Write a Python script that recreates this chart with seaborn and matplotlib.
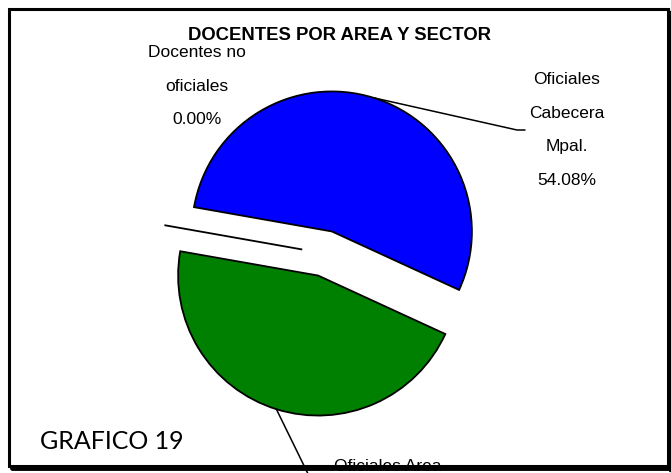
import matplotlib

matplotlib.use("Agg")
import matplotlib.pyplot as plt
import seaborn as sns
from matplotlib.lines import Line2D
from matplotlib.patches import Rectangle
import numpy as np


CATEGORIES = ["Oficiales\nCabecera\nMpal.", "Oficiales Area\nRural", "Docentes no\noficiales"]
SHARES = [54.08, 45.92, 0.00]
COLORS = ["#0000FF", "#008000", "#FFFFFF"]
TITLE = "DOCENTES POR AREA Y SECTOR"
CHART_TAG = "GRAFICO 19"

W, H = 671, 473
CENTER = (325, 253.5)
RADIUS = 140


def fig_xy(x, y):
    return x / W, 1 - y / H


def data_xy(x, y):
    return (x - CENTER[0]) / RADIUS, (CENTER[1] - y) / RADIUS


def main():
    sns.set_theme(style="white")
    plt.rcParams["font.family"] = ["Liberation Sans", "DejaVu Sans"]
    plt.rcParams["text.color"] = "black"

    fig = plt.figure(figsize=(W / 100, H / 100), dpi=100)
    ax = fig.add_axes([0, 0, 1, 1])

    wedges, _ = ax.pie(
        SHARES,
        colors=COLORS,
        startangle=170,
        counterclock=False,
        explode=[0.165] * len(SHARES),
        radius=1.0,
        wedgeprops={"edgecolor": "black", "linewidth": 1.3},
    )
    ax.set_aspect("auto")
    ax.set_xlim(data_xy(0, 0)[0], data_xy(W, 0)[0])
    ax.set_ylim(data_xy(0, H)[1], data_xy(0, 0)[1])
    ax.axis("off")

    def rim_point(wedge):
        mid = np.deg2rad((wedge.theta1 + wedge.theta2) / 2)
        cx, cy = wedge.center
        return cx + wedge.r * np.cos(mid), cy + wedge.r * np.sin(mid)

    # leader lines for the two real slices
    sx, sy = rim_point(wedges[0])
    ex, ey = data_xy(517, 130)
    hx, _ = data_xy(525, 130)
    ax.plot([sx, ex, hx], [sy, ey, ey], color="black", lw=1.1, clip_on=False)

    gx, gy = rim_point(wedges[1])
    tx, ty = data_xy(312, 482)
    ax.plot([gx, tx], [gy, ty], color="black", lw=1.1, clip_on=False)

    label_style = dict(fontsize=12.5, ha="center", multialignment="center", linespacing=2.55)
    labels = [f"{name}\n{share:.2f}%" for name, share in zip(CATEGORIES, SHARES)]
    fig.text(*fig_xy(567, 130), labels[0], va="center", **label_style)
    fig.text(*fig_xy(388, 459), labels[1], va="top", **label_style)
    fig.text(*fig_xy(197, 86), labels[2], va="center", **label_style)

    fig.text(*fig_xy(340, 35), TITLE, fontsize=13.3, fontweight="bold", ha="center", va="center")
    fig.text(*fig_xy(40, 441), CHART_TAG, fontsize=18, family=["Lato", "DejaVu Sans"],
             ha="left", va="center")

    x0, y0 = fig_xy(9, 466)
    x1, y1 = fig_xy(668, 9)
    fig.add_artist(Rectangle((x0, y0), x1 - x0, y1 - y0, transform=fig.transFigure,
                             fill=False, edgecolor="black", lw=2.2, zorder=10))
    fig.add_artist(Line2D([12 / W, 1], [1 - 468 / H] * 2, transform=fig.transFigure,
                          color="black", lw=3.5, zorder=10))
    fig.add_artist(Line2D([670 / W] * 2, [1 - 12 / H, 1 - 470 / H], transform=fig.transFigure,
                          color="black", lw=2.5, zorder=10))

    fig.savefig("out.png", dpi=100, facecolor="white")
    plt.close(fig)


if __name__ == "__main__":
    main()
